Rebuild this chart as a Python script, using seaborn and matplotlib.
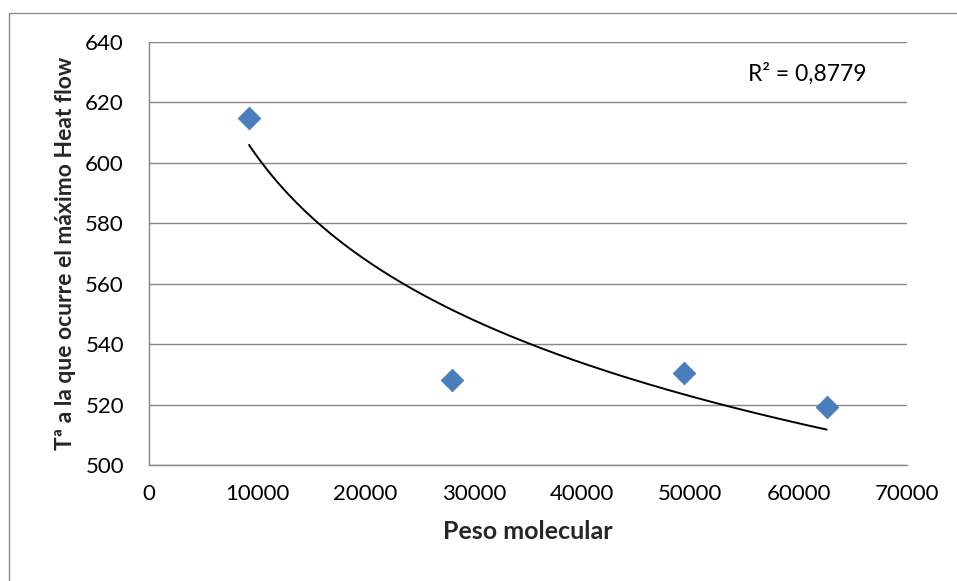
import numpy as np
import pandas as pd
import matplotlib
matplotlib.use("Agg")
import matplotlib.pyplot as plt
from matplotlib.patches import Rectangle
import seaborn as sns

# Molecular weight vs temperature at maximum heat flow
peso_molecular = [9240, 27960, 49400, 62580]
temperatura = [614.9, 528.0, 530.4, 519.1]
r_cuadrado = 0.8779

x_ticks = [0, 10000, 20000, 30000, 40000, 50000, 60000, 70000]
y_ticks = [500, 520, 540, 560, 580, 600, 620, 640]

df = pd.DataFrame({"Peso molecular": peso_molecular, "T": temperatura})

sns.set_theme(style="white")
plt.rcParams["font.family"] = ["Lato", "DejaVu Sans"]

fig = plt.figure(figsize=(9.57, 5.81), dpi=100)
ax = fig.add_axes([149 / 957, 1 - 465 / 581, 758 / 957, 423 / 581])

# Outer chart frame
fig.patches.append(Rectangle((9 / 957, -0.1), 1.2, 1 - 13 / 581 + 0.1,
                             transform=fig.transFigure, fill=False,
                             edgecolor="#8c8c8c", linewidth=1.0))

grid_color = "#868686"
for yv in y_ticks:
    ax.axhline(yv, color=grid_color, linewidth=1.0, zorder=0)

# Logarithmic trendline: y = a + b ln(x)
lx = np.log(df["Peso molecular"].values)
b, a = np.polyfit(lx, df["T"].values, 1)
xs = np.linspace(min(peso_molecular), max(peso_molecular), 300)
ax.plot(xs, a + b * np.log(xs), color="black", linewidth=1.4, zorder=2)

sns.scatterplot(data=df, x="Peso molecular", y="T", marker="D", s=135,
                color="#4A7EBB", edgecolor="#4A7EBB", linewidth=0.5,
                ax=ax, zorder=3, legend=False)

ax.set_xlim(0, 70000)
ax.set_ylim(500, 640)
ax.set_xticks(x_ticks)
ax.set_yticks(y_ticks)
ax.set_xticklabels([str(v) for v in x_ticks], fontsize=16)
ax.set_yticklabels([str(v) for v in y_ticks], fontsize=16)
ax.tick_params(axis="both", direction="out", length=6, width=1.0,
               color=grid_color, labelcolor="black")
ax.tick_params(axis="x", pad=8)
ax.tick_params(axis="y", pad=12)
for side in ["top", "right"]:
    ax.spines[side].set_visible(False)
for side in ["left", "bottom"]:
    ax.spines[side].set_color(grid_color)
    ax.spines[side].set_linewidth(1.0)

ax.set_xlabel("Peso molecular", fontsize=18, fontweight="bold", labelpad=11)
ax.set_ylabel("Tª a la que ocurre el máximo Heat flow", fontsize=16.5,
              fontweight="bold", labelpad=7)

ax.text(60760, 629.4, f"R² = {r_cuadrado:.4f}".replace(".", ","), fontsize=16.5,
        ha="center", va="center", color="black")

fig.savefig("out.png", dpi=100, facecolor="white")
